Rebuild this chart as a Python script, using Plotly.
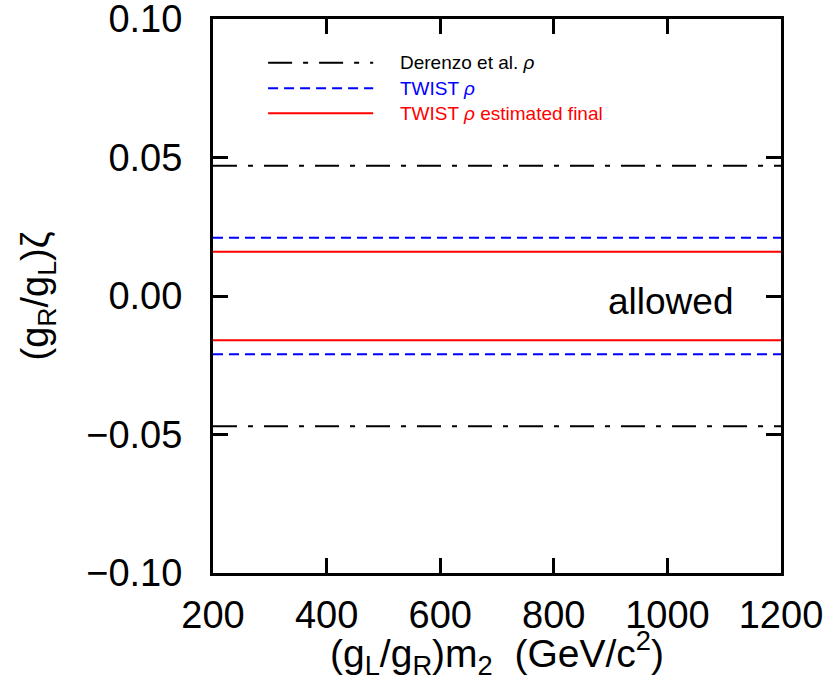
import plotly.graph_objects as go

x_range = [200, 1200]
x_ticks = [200, 400, 600, 800, 1000, 1200]
y_ticks = [-0.10, -0.05, 0.00, 0.05, 0.10]

series_names = ["Derenzo et al. <i>ρ</i>", "TWIST <i>ρ</i>", "TWIST <i>ρ</i> estimated final"]
series_limits = [0.047, 0.021, 0.016]
series_colors = ["black", "blue", "red"]
series_dash = ["24px,11px,5px,11px", "10px,6px", "solid"]

fig = go.Figure()
for name, lim, col, dash in zip(series_names, series_limits, series_colors, series_dash):
    for sign in (1, -1):
        fig.add_trace(go.Scatter(
            x=x_range, y=[sign * lim, sign * lim], mode="lines",
            line=dict(color=col, width=2, dash=dash),
            showlegend=False, hoverinfo="skip"))

# manual legend (upper left, inside the frame)
leg_y = [0.921, 0.875, 0.830]
for name, col, dash, yy in zip(series_names, series_colors, series_dash, leg_y):
    fig.add_shape(type="line", xref="paper", yref="paper",
                  x0=0.097, x1=0.282, y0=yy, y1=yy,
                  line=dict(color=col, width=2, dash=dash))
    fig.add_annotation(xref="paper", yref="paper", x=0.325, y=yy,
                       text=name, showarrow=False, xanchor="left", yanchor="middle",
                       font=dict(size=19, color=col))

fig.add_annotation(x=1006, y=-0.002, text="allowed", showarrow=False,
                   font=dict(size=37, color="black"))

fig.update_layout(
    width=833, height=681,
    margin=dict(l=213, r=52, t=19, b=108, autoexpand=False),
    paper_bgcolor="white", plot_bgcolor="white",
    font=dict(family="Liberation Sans, Arial, sans-serif", color="black"),
    showlegend=False,
)
fig.update_xaxes(range=x_range, tickvals=x_ticks, ticktext=[str(v) for v in x_ticks],
                 ticks="inside", ticklen=15, tickwidth=2.5, tickcolor="black",
                 showline=True, linewidth=3, linecolor="black", mirror="ticks",
                 showgrid=False, zeroline=False, automargin=False,
                 tickfont=dict(size=38), ticklabelstandoff=6, ticklabeloverflow="allow",
                 title=dict(text="(g<sub>L</sub>/g<sub>R</sub>)m<sub>2</sub>  (GeV/c<sup>2</sup>)",
                            font=dict(size=39), standoff=18))
fig.update_yaxes(range=[-0.1, 0.1], tickvals=y_ticks, tickformat=".2f",
                 ticks="inside", ticklen=15, tickwidth=2.5, tickcolor="black",
                 showline=True, linewidth=3, linecolor="black", mirror="ticks",
                 showgrid=False, zeroline=False, automargin=False,
                 tickfont=dict(size=38), ticklabelstandoff=20, ticklabeloverflow="allow",
                 title=dict(text="(g<sub>R</sub>/g<sub>L</sub>)ζ", font=dict(size=38), standoff=26))

fig.write_html("out.html", config={"displayModeBar": False},
               post_script="document.body.style.margin='0px';document.body.style.overflow='hidden';")
